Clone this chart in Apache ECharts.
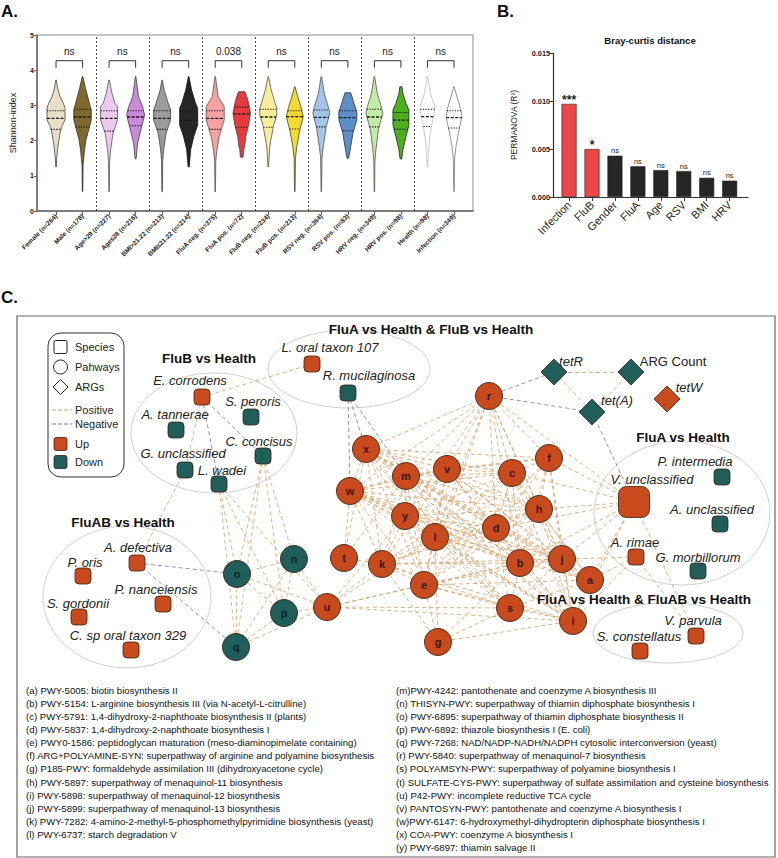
<!DOCTYPE html>
<html><head><meta charset="utf-8">
<script src="https://cdn.jsdelivr.net/npm/echarts@6/dist/echarts.min.js"></script>
<style>html,body{margin:0;padding:0;background:#fff}#c{width:778px;height:858px}</style>
</head><body><div id="c"></div><script>
const FONT = '"Liberation Sans", Arial, Helvetica, sans-serif';

// ---------- Panel A data ----------
const groupLabels = ['Female (n=264)','Male (n=178)','Age>29 (n=227)','Age\u226428 (n=216)','BMI>21.22 (n=213)','BMI\u226421.22 (n=214)','FluA neg. (n=375)','FluA pos. (n=72)','FluB neg. (n=234)','FluB pos. (n=213)','RSV neg. (n=364)','RSV pos. (n=83)','HRV neg. (n=349)','HRV pos. (n=98)','Health (n=98)','Infection (n=349)'];
const violinColors = ['#E9DFC4','#7E6A2C','#EDC9EE','#C98AD9','#9B9B9B','#262626','#F6A0A2','#E8393C','#F8EE9A','#F2DA2E','#A2C5E8','#5B8DC8','#C2EBA4','#4CAF1C','#FFFFFF','#FFFFFF'];
const violinStrokes = ['#444','#333','#555','#444','#444','#111','#555','#444','#555','#444','#555','#333','#555','#222','#BBBBBB','#777'];
// [Shannon value, half width in category units], top to bottom
const violinShapes = [
 [[3.72,0.01],[3.49,0.06],[3.25,0.15],[3.06,0.28],[2.92,0.34],[2.59,0.34],[2.40,0.22],[2.21,0.15],[1.83,0.07],[1.55,0.03],[1.25,0.01]],
 [[3.82,0.01],[3.49,0.11],[3.06,0.26],[2.87,0.33],[2.59,0.33],[2.30,0.23],[2.02,0.13],[1.74,0.075],[1.46,0.04],[1.30,0.02],[0.55,0.01]],
 [[3.72,0.01],[3.34,0.11],[3.06,0.22],[2.97,0.32],[2.59,0.32],[2.21,0.15],[1.74,0.057],[1.40,0.02],[0.55,0.01]],
 [[3.82,0.01],[3.25,0.11],[2.97,0.26],[2.73,0.34],[2.40,0.23],[1.93,0.075],[1.48,0.02]],
 [[3.72,0.01],[3.44,0.075],[3.06,0.23],[2.87,0.32],[2.59,0.32],[2.21,0.15],[1.74,0.057],[1.40,0.02],[0.55,0.01]],
 [[3.82,0.01],[3.44,0.11],[3.06,0.26],[2.92,0.34],[2.44,0.34],[2.11,0.19],[1.74,0.075],[1.25,0.02]],
 [[3.82,0.01],[3.25,0.11],[2.97,0.34],[2.59,0.34],[2.11,0.15],[1.69,0.057],[1.40,0.02],[0.55,0.01]],
 [[3.39,0.12],[3.25,0.19],[3.06,0.26],[2.78,0.33],[2.44,0.26],[2.11,0.15],[1.83,0.11],[1.75,0.075],[1.53,0.05]],
 [[3.82,0.01],[3.44,0.11],[3.06,0.26],[2.92,0.32],[2.73,0.32],[2.40,0.19],[1.83,0.057],[1.25,0.01]],
 [[3.53,0.01],[3.25,0.11],[2.97,0.23],[2.68,0.32],[2.30,0.19],[1.83,0.075],[1.50,0.025],[0.55,0.01]],
 [[3.82,0.01],[3.34,0.11],[2.97,0.26],[2.78,0.32],[2.40,0.19],[1.83,0.075],[1.50,0.025],[0.55,0.01]],
 [[3.36,0.11],[3.06,0.23],[2.82,0.34],[2.59,0.34],[2.21,0.19],[1.83,0.11],[1.50,0.03]],
 [[3.82,0.01],[3.34,0.11],[2.97,0.26],[2.78,0.32],[2.30,0.15],[1.74,0.057],[1.40,0.02],[0.55,0.01]],
 [[3.53,0.04],[3.34,0.075],[3.06,0.19],[2.87,0.30],[2.44,0.30],[2.11,0.19],[1.74,0.075],[1.48,0.03]],
 [[3.82,0.01],[3.34,0.11],[2.97,0.28],[2.78,0.26],[2.40,0.15],[2.02,0.075],[1.60,0.03],[1.25,0.01]],
 [[3.53,0.01],[3.25,0.11],[2.87,0.26],[2.68,0.30],[2.30,0.19],[1.83,0.075],[1.50,0.025],[0.55,0.01]]
];
const q3Values     = [2.85,2.89,2.85,2.85,2.85,2.85,2.85,2.95,2.89,2.85,2.87,2.85,2.89,2.80,2.89,2.85];
const medianValues = [2.63,2.67,2.63,2.67,2.63,2.58,2.63,2.76,2.67,2.68,2.66,2.65,2.67,2.58,2.68,2.65];
const q1Values     = [2.32,2.39,2.27,2.42,2.32,2.33,2.32,2.38,2.38,2.33,2.39,2.28,2.39,2.32,2.40,2.36];
const pairSigLabels = ['ns','ns','ns','0.038','ns','ns','ns','ns'];

// ---------- Panel B data ----------
const permCategories = ['Infection','FluB','Gender','FluA','Age','RSV','BMI','HRV'];
const permValues = [0.0097,0.0050,0.0043,0.0032,0.0028,0.0027,0.0020,0.0017];
const permSig = ['***','*','ns','ns','ns','ns','ns','ns'];
const permSignificant = [true,true,false,false,false,false,false,false];

// ---------- Panel C data ----------
// [name, x, y, direction]
const speciesNodes = [
 ['E. corrodens',202,397,'up'],['S. peroris',251,417,'down'],['A. tannerae',176,430,'down'],
 ['C. concisus',263,456,'down'],['G. unclassified',185,470,'down'],['L. wadei',219,484,'down'],
 ['L. oral taxon 107',312,364,'up'],['R. mucilaginosa',348,393,'down'],
 ['A. defectiva',137,563,'up'],['P. oris',83,576,'up'],['P. nanceiensis',163,604,'up'],
 ['S. gordonii',79,617,'up'],['C. sp oral taxon 329',131,650,'up'],
 ['V. unclassified',634,502,'up'],['P. intermedia',722,477,'down'],['A. unclassified',720,524,'down'],
 ['A. rimae',636,557,'up'],['G. morbillorum',698,571,'down'],
 ['V. parvula',696,636,'up'],['S. constellatus',640,651,'up']
];
const argNodes = [['tetR',554,372,'down'],['ARG Count',631,372,'down'],['tet(A)',592,412,'down'],['tetW',667,399,'up']];
const pathwayNodes = [
 ['a',590,580,'up'],['b',520,563,'up'],['c',512,473,'up'],['d',496,528,'up'],['e',424,585,'up'],
 ['f',549,458,'up'],['g',438,642,'up'],['h',539,509,'up'],['i',573,621,'up'],['j',562,559,'up'],
 ['k',382,564,'up'],['l',435,537,'up'],['m',406,476,'up'],['n',294,559,'down'],['o',237,574,'down'],
 ['p',284,613,'down'],['q',236,647,'down'],['r',489,396,'up'],['s',510,608,'up'],['t',344,558,'up'],
 ['u',327,607,'up'],['v',447,469,'up'],['w',350,491,'up'],['x',366,449,'up'],['y',405,516,'up']
];
const positiveLinks = [
 ['E. corrodens','L. oral taxon 107'],['E. corrodens','G. unclassified'],['G. unclassified','A. defectiva'],
 ['L. wadei','o'],['L. wadei','p'],['L. wadei','q'],['L. wadei','u'],
 ['C. concisus','o'],['C. concisus','n'],['C. concisus','p'],['C. concisus','q'],
 ['V. unclassified','r'],['V. unclassified','f'],['V. unclassified','c'],['V. unclassified','h'],
 ['V. unclassified','d'],['V. unclassified','j'],['V. unclassified','a'],['V. unclassified','b'],
 ['V. unclassified','i'],['V. unclassified','V. parvula'],
 ['A. rimae','a'],['A. rimae','i'],['A. rimae','j'],['A. rimae','V. parvula'],
 ['tetR','ARG Count'],['tetR','tet(A)'],['ARG Count','tet(A)']
];
const negativeLinks = [
 ['E. corrodens','C. concisus'],['E. corrodens','L. wadei'],
 ['R. mucilaginosa','w'],['R. mucilaginosa','x'],['R. mucilaginosa','m'],
 ['r','tetR'],['r','tet(A)'],['tet(A)','V. unclassified'],
 ['A. defectiva','o'],['A. defectiva','q']
];
// positive pathway-pathway correlations, "node:partners"
const pathwayLinks = [
 'x:mvylcdhfbjekiasrwt','w:mvylcdhbjekiastr','m:vylcdhfbjekisrt','v:ylcdhfbjekiar',
 'y:lcdhbjekisru','l:cdhbjekiasrgu','c:dhfbjekiar','f:hdbjeir','h:dbjekiar',
 'd:bjekiasr','b:jekiasrgu','j:ekiasr','e:kisagru','k:istgu','s:igau','i:gau',
 'n:opqu','o:pqu','p:qu','q:u'
];
const pathwayLegendLeft = [
 '(a) PWY-5005: biotin biosynthesis II',
 '(b) PWY-5154: L-arginine biosynthesis III (via N-acetyl-L-citrulline)',
 '(c) PWY-5791: 1,4-dihydroxy-2-naphthoate biosynthesis II (plants)',
 '(d) PWY-5837: 1,4-dihydroxy-2-naphthoate biosynthesis I',
 '(e) PWY0-1586: peptidoglycan maturation (meso-diaminopimelate containing)',
 '(f) ARG+POLYAMINE-SYN: superpathway of arginine and polyamine biosynthesis',
 '(g) P185-PWY: formaldehyde assimilation III (dihydroxyacetone cycle)',
 '(h) PWY-5897: superpathway of menaquinol-11 biosynthesis',
 '(i) PWY-5898: superpathway of menaquinol-12 biosynthesis',
 '(j) PWY-5899: superpathway of menaquinol-13 biosynthesis',
 '(k) PWY-7282: 4-amino-2-methyl-5-phosphomethylpyrimidine biosynthesis (yeast)',
 '(l) PWY-6737: starch degradation V'
];
const pathwayLegendRight = [
 '(m)PWY-4242: pantothenate and coenzyme A biosynthesis III',
 '(n) THISYN-PWY: superpathway of thiamin diphosphate biosynthesis I',
 '(o) PWY-6895: superpathway of thiamin diphosphate biosynthesis II',
 '(p) PWY-6892: thiazole biosynthesis I (E. coli)',
 '(q) PWY-7268: NAD/NADP-NADH/NADPH cytosolic interconversion (yeast)',
 '(r) PWY-5840: superpathway of menaquinol-7 biosynthesis',
 '(s) POLYAMSYN-PWY: superpathway of polyamine biosynthesis I',
 '(t) SULFATE-CYS-PWY: superpathway of sulfate assimilation and cysteine biosynthesis',
 '(u) P42-PWY: incomplete reductive TCA cycle',
 '(v) PANTOSYN-PWY: pantothenate and coenzyme A biosynthesis I',
 '(w)PWY-6147: 6-hydroxymethyl-dihydropterin diphosphate biosynthesis I',
 '(x) COA-PWY: coenzyme A biosynthesis I',
 '(y) PWY-6897: thiamin salvage II'
];

// ---------- styles / layout ----------
const UP = '#C94B1D', DOWN = '#1F5E59', NODE_BORDER = '#3a2314';
const POS = '#D6A067', NEG = '#6A79B8';
const speciesLabelOffsets = {
 'E. corrodens':[-12,-17],'S. peroris':[2,-16],'A. tannerae':[-1,-16],'C. concisus':[-4,-15],
 'G. unclassified':[-2,-17],'L. wadei':[3,-14],'L. oral taxon 107':[18,-17],'R. mucilaginosa':[21,-18],
 'A. defectiva':[1,-16],'P. oris':[2,-14],'P. nanceiensis':[-7,-15],'S. gordonii':[-1,-14],
 'C. sp oral taxon 329':[-3,-15],'V. unclassified':[18,-23],'P. intermedia':[-27,-16],
 'A. unclassified':[-8,-15],'A. rimae':[-1,-15],'G. morbillorum':[0,-14],'V. parvula':[-3,-16],
 'S. constellatus':[-1,-15],
 'tetR':[17,-11],'ARG Count':[42,-11],'tet(A)':[25,-12],'tetW':[22,-12]
};

function hwAt(prof, v){
  for (let k=0;k<prof.length-1;k++){
    const [y1,w1]=prof[k],[y2,w2]=prof[k+1];
    if (v<=y1 && v>=y2){ const t=(y1-v)/(y1-y2); return w1+(w2-w1)*t; }
  }
  return 0;
}

function violinRender(params, api){
  const i = params.dataIndex;
  const prof = violinShapes[i];
  const pts = [];
  prof.forEach(p => pts.push(api.coord([i-p[1], p[0]])));
  for (let k=prof.length-1;k>=0;k--) pts.push(api.coord([i+prof[k][1], prof[k][0]]));
  const children = [{type:'polygon', shape:{points:pts}, style:{fill:violinColors[i], stroke:violinStrokes[i], lineWidth:0.8}}];
  [[q3Values[i],false],[medianValues[i],true],[q1Values[i],false]].forEach(([qv,isMed])=>{
    const hw = hwAt(prof, qv);
    const a = api.coord([i-hw,qv]), b = api.coord([i+hw,qv]);
    children.push({type:'line', shape:{x1:a[0],y1:a[1],x2:b[0],y2:b[1]},
      style:{stroke:'#1a1a1a', lineWidth:isMed?1.3:1.1, lineDash:isMed?[3,1.5]:[1.3,1.3]}});
  });
  return {type:'group', children};
}

function bracketRender(params, api){
  const k = params.dataIndex;
  const xl = 2*k, xr = 2*k+1;
  const p1 = api.coord([xl,4.07]), p2 = api.coord([xl,4.27]), p3 = api.coord([xr,4.27]), p4 = api.coord([xr,4.07]);
  const t = api.coord([xl+0.5,4.53]);
  return {type:'group', children:[
    {type:'polyline', shape:{points:[p1,p2,p3,p4]}, style:{stroke:'#333', lineWidth:1, fill:null}},
    {type:'text', x:t[0], y:t[1], style:{text:pairSigLabels[k], font:'10px '+FONT, fill:'#222', textAlign:'center', textVerticalAlign:'middle'}}
  ]};
}

// graph nodes
const graphNodes = [];
speciesNodes.forEach(([n,x,y,d])=>{
  const big = n==='V. unclassified';
  graphNodes.push({name:n, value:[x,y], symbol:'roundRect', symbolSize: big?31:16,
    itemStyle:{color:d==='up'?UP:DOWN, borderColor:NODE_BORDER, borderWidth:0.8},
    label:{show:true, position:'inside', offset:speciesLabelOffsets[n], formatter:n,
      fontStyle:'italic', fontSize:13, color:'#222', fontFamily:FONT}});
});
argNodes.forEach(([n,x,y,d])=>{
  graphNodes.push({name:n, value:[x,y], symbol:'diamond', symbolSize:26,
    itemStyle:{color:d==='up'?UP:DOWN, borderColor:NODE_BORDER, borderWidth:0.8},
    label:{show:true, position:'inside', offset:speciesLabelOffsets[n], formatter:n,
      fontStyle:n==='ARG Count'?'normal':'italic', fontSize:13, color:'#222', fontFamily:FONT}});
});
pathwayNodes.forEach(([n,x,y,d])=>{
  graphNodes.push({name:n, value:[x,y], symbol:'circle', symbolSize:27,
    itemStyle:{color:d==='up'?UP:DOWN, borderColor:NODE_BORDER, borderWidth:0.9},
    label:{show:true, position:'inside', formatter:n, fontWeight:'bold', fontSize:11,
      color:d==='up'?'#3a1608':'#0c2624', fontFamily:FONT}});
});
const graphLinks = [];
const seen = new Set();
function addLink(a,b,color){
  const key = [a,b].sort().join('|');
  if (seen.has(key) || a===b) return;
  seen.add(key);
  graphLinks.push({source:a, target:b, lineStyle:{color}});
}
pathwayLinks.forEach(s=>{ const [a,rest]=s.split(':'); rest.split('').forEach(b=>addLink(a,b,POS)); });
positiveLinks.forEach(([a,b])=>addLink(a,b,POS));
negativeLinks.forEach(([a,b])=>addLink(a,b,NEG));

// ---------- graphics ----------
const G = [];
function txt(text,x,y,font,opts){ G.push({type:'text', z:10, silent:true, style:Object.assign({text,x,y,font:font+' '+FONT,fill:'#111',textAlign:'left',textVerticalAlign:'middle'},opts||{})}); }
txt('A.',1,11,'bold 17px');
txt('B.',497,11,'bold 17px');
txt('C.',1,297,'bold 17px');
txt('Bray-curtis distance',650,40,'bold 9.5px',{textAlign:'center'});
// panel C frame
G.push({type:'rect', z:0, shape:{x:17,y:316,width:758,height:541}, style:{fill:'none', stroke:'#666', lineWidth:1.2}});
// group ellipses
[[214,433,83,60],[349,369,81,39],[127,597,84,71],[682,513,88,72],[668,633,75,30]].forEach(e=>{
  G.push({type:'ellipse', z:0, shape:{cx:e[0],cy:e[1],rx:e[2],ry:e[3]}, style:{fill:'none', stroke:'#CFCFCF', lineWidth:1}});
});
txt('FluB vs Health',209,358,'bold 13.5px',{textAlign:'center'});
txt('FluA vs Health & FluB vs Health',431,329,'bold 13.5px',{textAlign:'center'});
txt('FluAB vs Health',123,522,'bold 13.5px',{textAlign:'center'});
txt('FluA vs Health',683,437,'bold 13.5px',{textAlign:'center'});
txt('FluA vs Health & FluAB vs Health',644,599,'bold 13.5px',{textAlign:'center'});
// legend box
G.push({type:'rect', z:1, shape:{x:48,y:333,width:76,height:144,r:13}, style:{fill:'#fff', stroke:'#333', lineWidth:1}});
G.push({type:'rect', z:2, shape:{x:54,y:340.5,width:13,height:13,r:1.5}, style:{fill:'#fff', stroke:'#222', lineWidth:1}});
G.push({type:'circle', z:2, shape:{cx:60.5,cy:367,r:7}, style:{fill:'#fff', stroke:'#222', lineWidth:1}});
G.push({type:'polygon', z:2, shape:{points:[[60.5,379.5],[68,387],[60.5,394.5],[53,387]]}, style:{fill:'#fff', stroke:'#222', lineWidth:1}});
G.push({type:'line', z:2, shape:{x1:52,y1:410,x2:72,y2:410}, style:{stroke:POS, lineWidth:1, lineDash:[4,2]}});
G.push({type:'line', z:2, shape:{x1:52,y1:424,x2:72,y2:424}, style:{stroke:NEG, lineWidth:1, lineDash:[4,2]}});
G.push({type:'rect', z:2, shape:{x:54,y:437.5,width:13,height:13,r:2}, style:{fill:UP, stroke:NODE_BORDER, lineWidth:0.8}});
G.push({type:'rect', z:2, shape:{x:54,y:455.5,width:13,height:13,r:2}, style:{fill:DOWN, stroke:NODE_BORDER, lineWidth:0.8}});
[['Species',347],['Pahways',367],['ARGs',387],['Positive',410],['Negative',424],['Up',444],['Down',462]].forEach(([t,y])=>txt(t,75,y,'11px',{fill:'#222'}));
pathwayLegendLeft.forEach((t,i)=>txt(t,26,690+i*13.15,'9.6px'));
pathwayLegendRight.forEach((t,i)=>txt(t,396,690+i*13.15,'9.6px'));

const idx16 = groupLabels.map((_,i)=>i);
const idx8 = permCategories.map((_,i)=>i);

const option = {
  animation:false,
  textStyle:{fontFamily:FONT},
  grid:[
    {left:37, top:35, width:436, height:176, show:true, borderColor:'#8a8a8a', borderWidth:1, backgroundColor:'transparent'},
    {left:553, top:53, width:195, height:144},
    {left:0, top:0, width:778, height:858}
  ],
  xAxis:[
    {gridIndex:0, type:'value', min:-0.717, max:15.717, splitLine:{show:false},
     axisLine:{show:true, onZero:false, lineStyle:{color:'#666', width:1.5}},
     axisTick:{show:true, customValues:idx16, length:4, lineStyle:{color:'#666', width:1.2}},
     axisLabel:{customValues:idx16, formatter:v=>groupLabels[Math.round(v)], rotate:45, fontSize:6.5, fontWeight:'bold', color:'#222', margin:4}},
    {gridIndex:1, type:'value', min:-0.7, max:7.8, splitLine:{show:false},
     axisLine:{show:true, onZero:false, lineStyle:{color:'#333', width:1.2}},
     axisTick:{show:true, customValues:idx8, length:4, lineStyle:{color:'#333'}},
     axisLabel:{customValues:idx8, formatter:v=>permCategories[Math.round(v)], rotate:45, fontSize:11, color:'#222', margin:6}},
    {gridIndex:2, type:'value', min:0, max:778, show:false}
  ],
  yAxis:[
    {gridIndex:0, type:'value', min:0, max:5, interval:1, splitLine:{show:false},
     name:'Shannon-index', nameLocation:'middle', nameGap:20, nameTextStyle:{fontSize:9, color:'#222'},
     axisLine:{show:true, onZero:false, lineStyle:{color:'#666', width:1.5}},
     axisTick:{show:true, length:3, lineStyle:{color:'#666', width:1.2}},
     axisLabel:{fontSize:7, fontWeight:'bold', color:'#222', margin:3}},
    {gridIndex:1, type:'value', min:0, max:0.015, interval:0.005, splitLine:{show:false},
     name:'PERMANOVA (R\u00B2)', nameLocation:'middle', nameGap:35, nameTextStyle:{fontSize:8.5, color:'#222'},
     axisLine:{show:true, onZero:false, lineStyle:{color:'#333', width:1.2}},
     axisTick:{show:true, length:4, lineStyle:{color:'#333'}},
     axisLabel:{formatter:v=>v.toFixed(3), fontSize:7.3, fontWeight:'bold', color:'#222', margin:3}},
    {gridIndex:2, type:'value', min:0, max:858, inverse:true, show:false}
  ],
  series:[
    {type:'custom', xAxisIndex:0, yAxisIndex:0, renderItem:violinRender, silent:true,
     data:groupLabels.map((_,i)=>[i, medianValues[i]]), encode:{x:0,y:1}, clip:false,
     markLine:{silent:true, symbol:'none', label:{show:false}, lineStyle:{type:[2,2], color:'#333', width:0.9},
       data:[1.5,3.5,5.5,7.5,9.5,11.5,13.5].map(v=>({xAxis:v}))}},
    {type:'custom', xAxisIndex:0, yAxisIndex:0, renderItem:bracketRender, silent:true,
     data:pairSigLabels.map((_,k)=>[2*k+0.5, 4.27]), encode:{x:0,y:1}, clip:false},
    {type:'bar', xAxisIndex:1, yAxisIndex:1, barWidth:15, silent:true,
     data:permValues.map((v,i)=>({value:[i,v], itemStyle:{color:permSignificant[i]?'#EE4546':'#262626', borderColor:'#222', borderWidth:0.6}})),
     label:{show:true, position:'top', distance:1, color:'#222', formatter:p=>{const s=permSig[p.dataIndex]; return s==='ns'?'{ns|ns}':'{st|'+s+'}';},
       rich:{ns:{fontSize:7.5, color:'#222'}, st:{fontSize:12, fontWeight:'bold', color:'#222', padding:[0,0,-3,0]}}}},
    {type:'graph', coordinateSystem:'cartesian2d', xAxisIndex:2, yAxisIndex:2, z:5, silent:true,
     data:graphNodes, links:graphLinks,
     lineStyle:{width:0.9, type:[4,3], opacity:0.9, curveness:0},
     emphasis:{disabled:true}}
  ],
  graphic:G
};
const chart = echarts.init(document.getElementById('c'), null, {renderer:'svg', width:778, height:858});
chart.setOption(option);
</script></body></html>
